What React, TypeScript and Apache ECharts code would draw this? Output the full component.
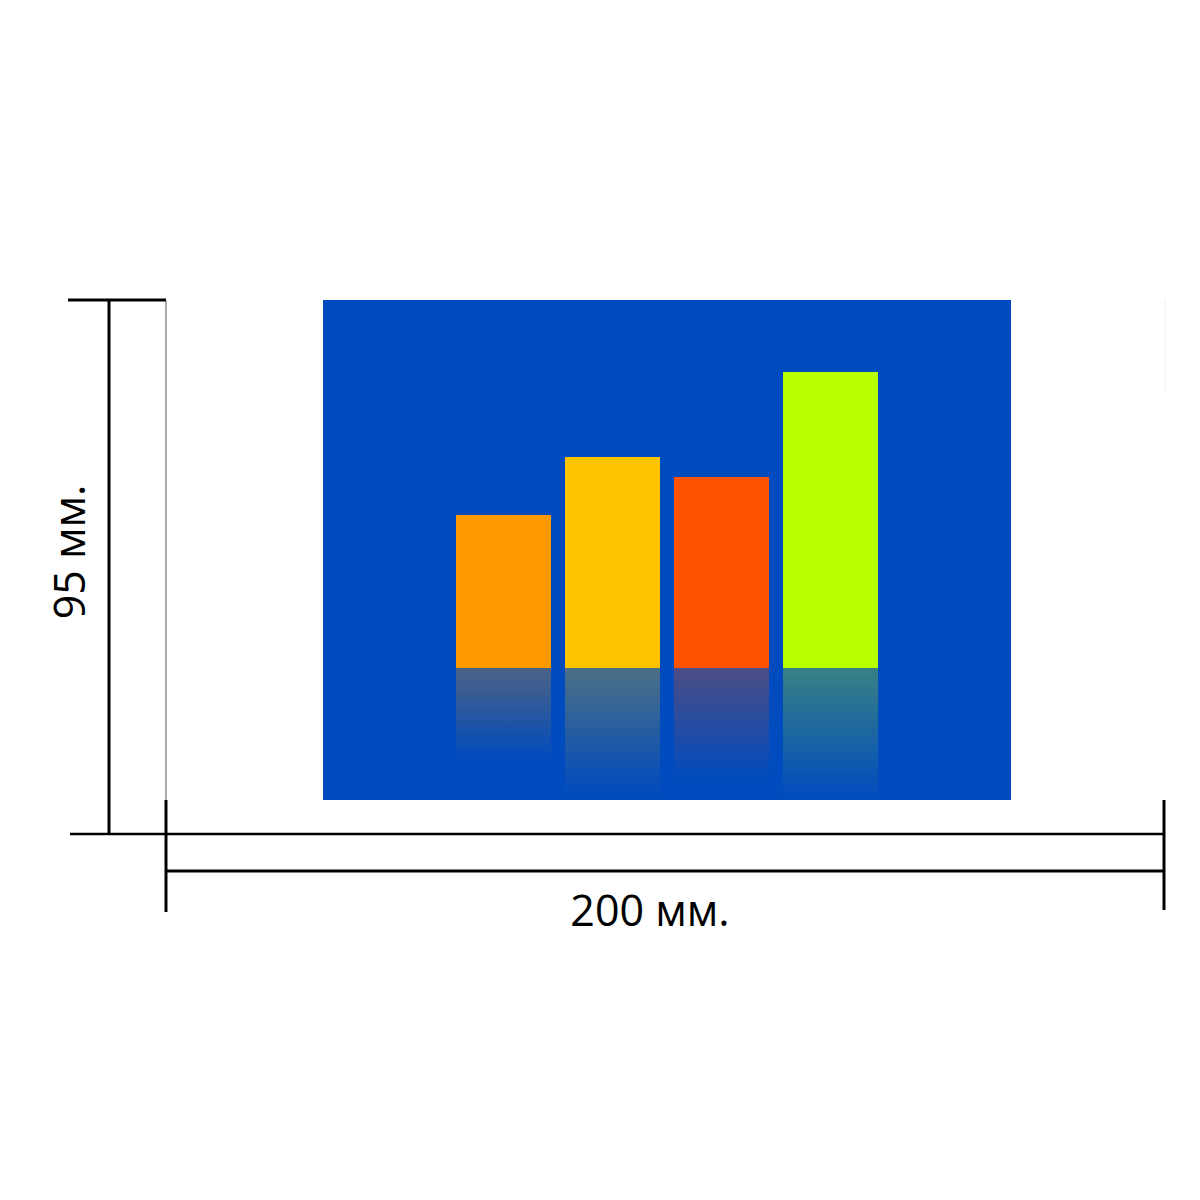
import React, { useEffect, useRef } from "react";
import * as echarts from "echarts";

const categories = ["A", "B", "C", "D"];
const barValues = [153, 211, 191, 296];
const reflectionValues = [-92, -127, -112, -132];
const barColors = ["#FF9900", "#FFC400", "#FF5200", "#B8FF00"];
const widthLabel = "200 мм.";
const heightLabel = "95 мм.";

function hexToRgba(hex: string, a: number) {
  const r = parseInt(hex.slice(1, 3), 16);
  const g = parseInt(hex.slice(3, 5), 16);
  const b = parseInt(hex.slice(5, 7), 16);
  return `rgba(${r},${g},${b},${a})`;
}

export default function App() {
  const ref = useRef<HTMLDivElement>(null);
  useEffect(() => {
    if (!ref.current) return;
    const chart = echarts.init(ref.current, null, { renderer: "svg" });
    const lineStyle = { stroke: "#000", lineWidth: 3 };
    chart.setOption({
      animation: false,
      backgroundColor: "#fff",
      grid: { left: 449, top: 300, width: 436, height: 500 },
      xAxis: {
        type: "category",
        data: categories,
        show: false,
      },
      yAxis: {
        type: "value",
        min: -132,
        max: 368,
        show: false,
      },
      graphic: [
        { type: "rect", z: -10, shape: { x: 323, y: 300, width: 688, height: 500 }, style: { fill: "#004BBE" } },
        // vertical dimension
        { type: "line", shape: { x1: 68, y1: 300, x2: 166, y2: 300 }, style: lineStyle },
        { type: "line", shape: { x1: 109, y1: 300, x2: 109, y2: 834 }, style: lineStyle },
        { type: "line", shape: { x1: 166, y1: 300, x2: 166, y2: 800 }, style: { stroke: "#555", lineWidth: 1 } },
        { type: "line", shape: { x1: 166, y1: 800, x2: 166, y2: 834 }, style: lineStyle },
        { type: "line", shape: { x1: 70, y1: 834, x2: 1164, y2: 834 }, style: { stroke: "#000", lineWidth: 2.5 } },
        // horizontal dimension
        { type: "line", shape: { x1: 166, y1: 834, x2: 166, y2: 912 }, style: lineStyle },
        { type: "line", shape: { x1: 166, y1: 871, x2: 1164, y2: 871 }, style: lineStyle },
        { type: "line", shape: { x1: 1164, y1: 800, x2: 1164, y2: 910 }, style: lineStyle },
        { type: "line", shape: { x1: 1165, y1: 300, x2: 1165, y2: 390 }, style: { stroke: "#eee", lineWidth: 1 } },
        {
          type: "text",
          x: 650,
          y: 909,
          style: {
            text: widthLabel,
            font: "43px 'Open Sans'",
            fill: "#000",
            align: "center",
            verticalAlign: "middle",
          },
        },
        {
          type: "text",
          x: 68,
          y: 552,
          rotation: Math.PI / 2,
          style: {
            text: heightLabel,
            font: "43px 'Open Sans'",
            fill: "#000",
            align: "center",
            verticalAlign: "middle",
          },
        },
      ],
      series: [
        {
          type: "bar",
          barWidth: 95,
          barGap: "-100%",
          z: 3,
          data: barValues.map((v, i) => ({ value: v, itemStyle: { color: barColors[i] } })),
        },
        {
          type: "bar",
          barWidth: 95,
          barGap: "-100%",
          z: 2,
          data: reflectionValues.map((v, i) => ({
            value: v,
            itemStyle: {
              color: new echarts.graphic.LinearGradient(0, 0, 0, 1, [
                { offset: 0, color: hexToRgba(barColors[i], 0.3) },
                { offset: 1, color: hexToRgba(barColors[i], 0) },
              ]),
            },
          })),
        },
      ],
    });
    return () => chart.dispose();
  }, []);
  return (
    <div
      ref={ref}
      style={{ position: "absolute", left: 0, top: 0, width: 1200, height: 1200 }}
    />
  );
}
